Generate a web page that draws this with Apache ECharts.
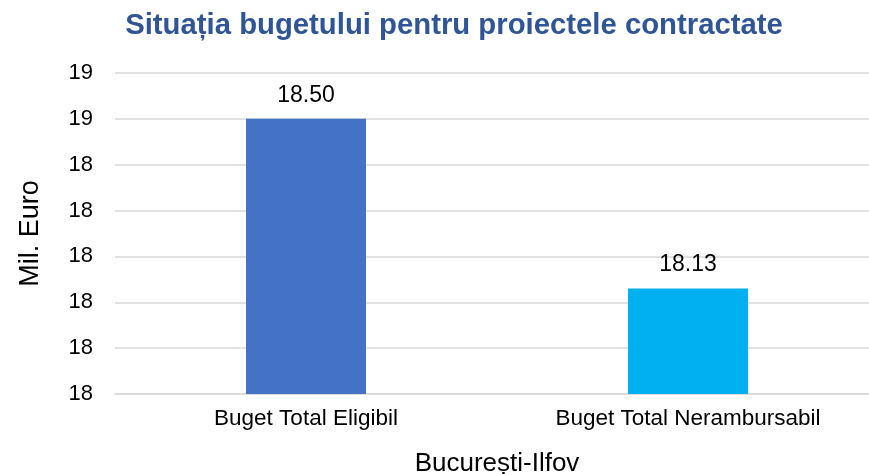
<!DOCTYPE html>
<html>
<head>
<meta charset="utf-8">
<script src="https://cdn.jsdelivr.net/npm/echarts@6/dist/echarts.min.js"></script>
<style>
  html, body { margin: 0; padding: 0; background: #fff; }
  #chart { width: 869px; height: 474px; }
</style>
</head>
<body>
<div id="chart"></div>
<script>
// date din grafic
var categories = ['Buget Total Eligibil', 'Buget Total Nerambursabil'];
var values = [18.50, 18.13];
var barColors = ['#4472C4', '#00B0F0'];

var chart = echarts.init(document.getElementById('chart'));

var option = {
  animation: false,
  backgroundColor: '#fff',
  title: {
    text: 'Situația bugetului pentru proiectele contractate',
    left: 449,
    textAlign: 'center',
    top: 6,
    textStyle: {
      fontFamily: 'Liberation Sans',
      fontSize: 29.3,
      fontWeight: 'bold',
      color: '#2F5597'
    }
  },
  // grila iese putin din dreapta, ca in original
  grid: { left: 115, top: 73, bottom: 80, right: -10, containLabel: false, outerBoundsMode: 'none' },
  xAxis: {
    type: 'category',
    data: categories,
    name: 'București-Ilfov',
    nameLocation: 'middle',
    nameGap: 57,
    nameTextStyle: { fontFamily: 'Liberation Sans', fontSize: 26, color: '#000' },
    axisLine: { lineStyle: { color: '#d9d9d9', width: 1.5 } },
    axisTick: { show: false },
    axisLabel: { fontFamily: 'Liberation Sans', fontSize: 22.5, color: '#000', margin: 13 }
  },
  yAxis: {
    type: 'value',
    min: 17.9,
    max: 18.6,
    interval: 0.1,
    name: 'Mil. Euro',
    nameLocation: 'middle',
    nameGap: 71,
    nameTextStyle: { fontFamily: 'Liberation Sans', fontSize: 27, color: '#000' },
    axisLine: { show: false },
    axisTick: { show: false },
    axisLabel: {
      fontFamily: 'Liberation Sans', fontSize: 22, color: '#000', margin: 22,
      formatter: function (v) { return Math.round(Number(v.toFixed(1))); }
    },
    splitLine: { lineStyle: { color: '#d9d9d9', width: 1.5 } }
  },
  series: [{
    type: 'bar',
    barWidth: 120,
    data: values.map(function (v, i) {
      return { value: v, itemStyle: { color: barColors[i] } };
    }),
    label: {
      show: true,
      position: 'top',
      distance: 12,
      fontFamily: 'Liberation Sans',
      fontSize: 23,
      color: '#000',
      formatter: function (p) { return p.value.toFixed(2); }
    }
  }]
};

chart.setOption(option);
</script>
</body>
</html>
